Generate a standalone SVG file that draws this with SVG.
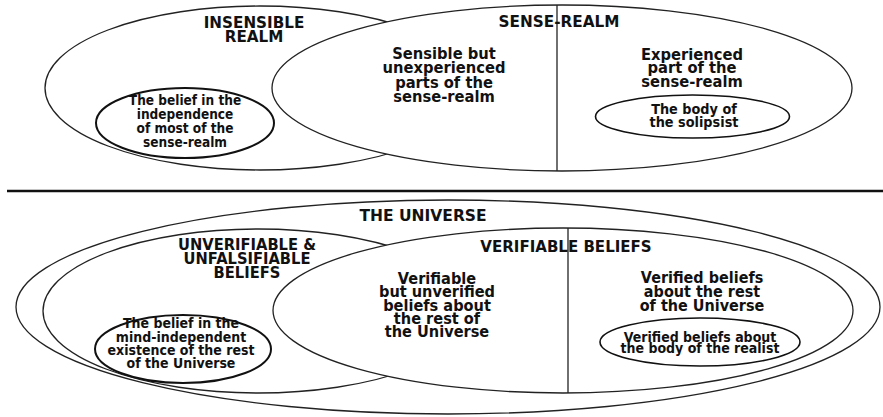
<svg xmlns="http://www.w3.org/2000/svg" width="883" height="417" viewBox="0 0 883 417">
<style>
.bg{fill:#fff}
.e{fill:#fff;stroke:#222;stroke-width:1.3}
.ei{fill:#fff;stroke:#111;stroke-width:2}
.er{fill:#fff;stroke:#111;stroke-width:1.6}
.ln{stroke:#222;stroke-width:1.3}
.sep{stroke:#111;stroke-width:2.5}
text{font-family:"DejaVu Sans","Liberation Sans",sans-serif;font-weight:bold;fill:#111;text-anchor:middle}
.h{font-size:16px}
.b{font-size:16px}
.s{font-size:14px}
</style>
<rect class="bg" x="0" y="0" width="883" height="417"/>
<g id="top">
  <g id="insensible-realm">
    <ellipse class="e" cx="260" cy="88" rx="215" ry="82"/>
    <text class="h" transform="translate(254 0) scale(0.95 1)"><tspan x="0" y="28">INSENSIBLE</tspan><tspan x="0" y="42">REALM</tspan></text>
  </g>
  <g id="sense-realm">
    <ellipse class="e" cx="562" cy="88" rx="290" ry="83"/>
    <line class="ln" x1="557" y1="5" x2="557" y2="171"/>
    <text class="h" transform="translate(559 27) scale(0.955 1)" x="0" y="0">SENSE-REALM</text>
  </g>
  <g id="sensible-unexperienced">
    <text class="b" transform="translate(444 0) scale(0.92 1)"><tspan x="0" y="59">Sensible but</tspan><tspan x="0" y="73.5">unexperienced</tspan><tspan x="0" y="88">parts of the</tspan><tspan x="0" y="102">sense-realm</tspan></text>
  </g>
  <g id="experienced">
    <text class="b" transform="translate(692 0) scale(0.92 1)"><tspan x="0" y="60">Experienced</tspan><tspan x="0" y="73.5">part of the</tspan><tspan x="0" y="87">sense-realm</tspan></text>
  </g>
  <g id="belief-independence">
    <ellipse class="ei" cx="185" cy="123" rx="89" ry="35"/>
    <text class="s" transform="translate(185 0) scale(0.87 1)"><tspan x="0" y="105">The belief in the</tspan><tspan x="0" y="119">independence</tspan><tspan x="0" y="133">of most of the</tspan><tspan x="0" y="147">sense-realm</tspan></text>
  </g>
  <g id="body-solipsist">
    <ellipse class="er" cx="692.5" cy="116.5" rx="97" ry="21.5"/>
    <text class="s" transform="translate(694 0) scale(0.92 1)"><tspan x="0" y="114">The body of</tspan><tspan x="0" y="127">the solipsist</tspan></text>
  </g>
</g>
<g id="connectors">
  <line class="sep" x1="7" y1="191" x2="883" y2="191"/>
</g>
<g id="bottom">
  <g id="universe">
    <ellipse class="e" cx="448" cy="307" rx="432" ry="107"/>
    <text class="h" transform="translate(423 221) scale(0.97 1)" x="0" y="0">THE UNIVERSE</text>
  </g>
  <g id="unverifiable">
    <ellipse class="e" cx="258" cy="311" rx="215" ry="82"/>
    <text class="h" transform="translate(247 0) scale(0.92 1)"><tspan x="0" y="250">UNVERIFIABLE &amp;</tspan><tspan x="0" y="264">UNFALSIFIABLE</tspan><tspan x="0" y="278">BELIEFS</tspan></text>
  </g>
  <g id="verifiable">
    <ellipse class="e" cx="563" cy="310.5" rx="290" ry="82.5"/>
    <line class="ln" x1="568" y1="228" x2="568" y2="393"/>
    <text class="h" transform="translate(566 252) scale(0.94 1)" x="0" y="0">VERIFIABLE BELIEFS</text>
  </g>
  <g id="verifiable-unverified">
    <text class="b" transform="translate(437 0) scale(0.91 1)"><tspan x="0" y="284">Verifiable</tspan><tspan x="0" y="297">but unverified</tspan><tspan x="0" y="311">beliefs about</tspan><tspan x="0" y="324">the rest of</tspan><tspan x="0" y="337">the Universe</tspan></text>
  </g>
  <g id="verified-rest">
    <text class="b" transform="translate(702 0) scale(0.9 1)"><tspan x="0" y="283">Verified beliefs</tspan><tspan x="0" y="297">about the rest</tspan><tspan x="0" y="311">of the Universe</tspan></text>
  </g>
  <g id="belief-mind-independent">
    <ellipse class="ei" cx="183" cy="349" rx="88" ry="34"/>
    <text class="s" transform="translate(181 0) scale(0.9 1)"><tspan x="0" y="328">The belief in the</tspan><tspan x="0" y="342">mind-independent</tspan><tspan x="0" y="355">existence of the rest</tspan><tspan x="0" y="368">of the Universe</tspan></text>
  </g>
  <g id="body-realist">
    <ellipse class="er" cx="700" cy="342" rx="100" ry="24"/>
    <text class="s" transform="translate(700 0) scale(0.9 1)"><tspan x="0" y="342">Verified beliefs about</tspan><tspan x="0" y="353.5">the body of the realist</tspan></text>
  </g>
</g>
</svg>
